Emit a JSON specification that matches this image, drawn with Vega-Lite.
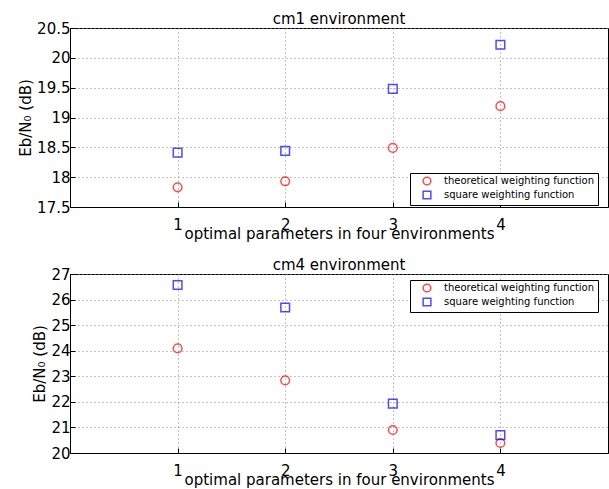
{
  "$schema": "https://vega.github.io/schema/vega-lite/v6.json",
  "padding": {"left": 18, "top": 11, "right": 0, "bottom": 0},
  "background": "white",
  "config": {
    "view": {"stroke": "black", "strokeWidth": 1},
    "font": "DejaVu Sans",
    "axis": {
      "domainColor": "black",
      "tickColor": "black",
      "tickSize": -5,
      "labelColor": "black",
      "titleColor": "black",
      "labelFont": "DejaVu Sans",
      "titleFont": "DejaVu Sans",
      "labelFontSize": 15,
      "titleFontSize": 15,
      "titleFontWeight": "normal",
      "gridColor": "#888888",
      "gridDash": [1, 3],
      "gridWidth": 1
    },
    "axisX": {"labelPadding": 15, "titlePadding": -6},
    "axisY": {"labelPadding": 5, "titlePadding": 3},
    "title": {"font": "DejaVu Sans", "fontSize": 15, "fontWeight": "normal", "color": "black", "offset": -6},
    "legend": {
      "orient": "none",
      "title": null,
      "strokeColor": "black",
      "fillColor": "white",
      "padding": 3,
      "labelFont": "DejaVu Sans",
      "labelFontSize": 10,
      "labelColor": "black",
      "symbolStrokeWidth": 1.5,
      "symbolSize": 60,
      "rowPadding": 0,
      "symbolOffset": 9,
      "labelOffset": 12
    }
  },
  "datasets": {
    "pts": [
      {"env": "cm1", "x": 1, "y": 17.83, "series": "theoretical weighting function"},
      {"env": "cm1", "x": 2, "y": 17.93, "series": "theoretical weighting function"},
      {"env": "cm1", "x": 3, "y": 18.49, "series": "theoretical weighting function"},
      {"env": "cm1", "x": 4, "y": 19.19, "series": "theoretical weighting function"},
      {"env": "cm1", "x": 1, "y": 18.41, "series": "square weighting function"},
      {"env": "cm1", "x": 2, "y": 18.44, "series": "square weighting function"},
      {"env": "cm1", "x": 3, "y": 19.48, "series": "square weighting function"},
      {"env": "cm1", "x": 4, "y": 20.22, "series": "square weighting function"},
      {"env": "cm4", "x": 1, "y": 24.09, "series": "theoretical weighting function"},
      {"env": "cm4", "x": 2, "y": 22.84, "series": "theoretical weighting function"},
      {"env": "cm4", "x": 3, "y": 20.9, "series": "theoretical weighting function"},
      {"env": "cm4", "x": 4, "y": 20.39, "series": "theoretical weighting function"},
      {"env": "cm4", "x": 1, "y": 26.57, "series": "square weighting function"},
      {"env": "cm4", "x": 2, "y": 25.69, "series": "square weighting function"},
      {"env": "cm4", "x": 3, "y": 21.93, "series": "square weighting function"},
      {"env": "cm4", "x": 4, "y": 20.7, "series": "square weighting function"}
    ]
  },
  "spacing": 15,
  "resolve": {
    "scale": {"color": "independent", "shape": "independent"},
    "legend": {"color": "independent", "shape": "independent"}
  },
  "vconcat": [
    {
      "title": "cm1 environment",
      "width": 538,
      "height": 179,
      "data": {"name": "pts"},
      "transform": [{"filter": "datum.env === 'cm1'"}],
      "mark": {"type": "point", "filled": false, "strokeWidth": 1.5, "size": 75},
      "encoding": {
        "x": {"field": "x", "type": "quantitative", "scale": {"domain": [0, 5], "nice": false}, "axis": {"values": [1, 2, 3, 4], "title": "optimal parameters in four environments"}},
        "y": {"field": "y", "type": "quantitative", "scale": {"domain": [17.5, 20.5], "nice": false, "zero": false}, "axis": {"values": [17.5, 18, 18.5, 19, 19.5, 20, 20.5], "format": ".1~f", "title": "Eb/N₀ (dB)"}},
        "color": {"field": "series", "type": "nominal", "scale": {"domain": ["theoretical weighting function", "square weighting function"], "range": ["#ff0000", "#0000ff"]}, "legend": {"legendX": 340, "legendY": 145}},
        "shape": {"field": "series", "type": "nominal", "scale": {"domain": ["theoretical weighting function", "square weighting function"], "range": ["circle", "square"]}, "legend": {"legendX": 340, "legendY": 145}}
      }
    },
    {
      "title": "cm4 environment",
      "width": 538,
      "height": 179,
      "data": {"name": "pts"},
      "transform": [{"filter": "datum.env === 'cm4'"}],
      "mark": {"type": "point", "filled": false, "strokeWidth": 1.5, "size": 75},
      "encoding": {
        "x": {"field": "x", "type": "quantitative", "scale": {"domain": [0, 5], "nice": false}, "axis": {"values": [1, 2, 3, 4], "title": "optimal parameters in four environments"}},
        "y": {"field": "y", "type": "quantitative", "scale": {"domain": [20, 27], "nice": false, "zero": false}, "axis": {"values": [20, 21, 22, 23, 24, 25, 26, 27], "title": "Eb/N₀ (dB)"}},
        "color": {"field": "series", "type": "nominal", "scale": {"domain": ["theoretical weighting function", "square weighting function"], "range": ["#ff0000", "#0000ff"]}, "legend": {"legendX": 340, "legendY": 6}},
        "shape": {"field": "series", "type": "nominal", "scale": {"domain": ["theoretical weighting function", "square weighting function"], "range": ["circle", "square"]}, "legend": {"legendX": 340, "legendY": 6}}
      }
    }
  ]
}
